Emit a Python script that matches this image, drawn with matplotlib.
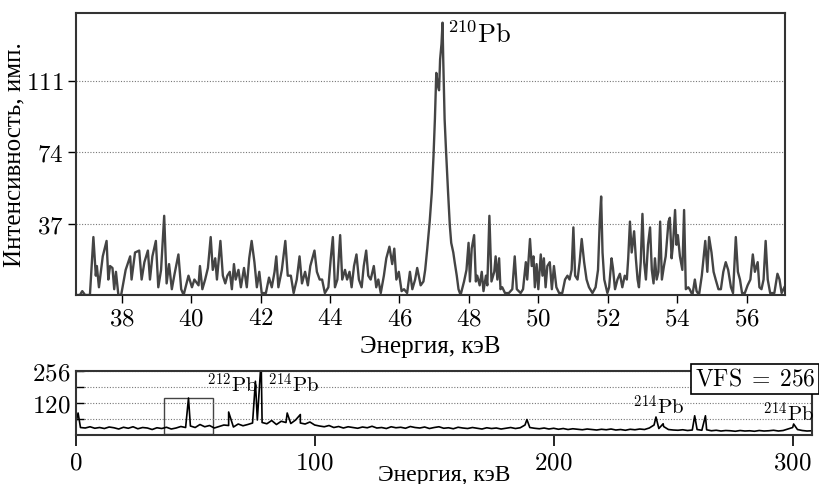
import numpy as np
import matplotlib
matplotlib.use('Agg')
import matplotlib.pyplot as plt
from matplotlib.patches import Rectangle
from matplotlib.ticker import FuncFormatter

plt.rcParams['font.family'] = ['Liberation Serif', 'DejaVu Serif']
plt.rcParams['mathtext.fontset'] = 'cm'

# --- верхний спектр 37-57 кэВ (пики и впадины) ---
top_energy = [
    36.67, 36.79, 36.86, 36.94, 37.08, 37.18, 37.25, 37.28, 37.34, 37.45, 37.56, 37.61, 37.66, 37.73, 37.78,
    37.83, 37.90, 37.98, 38.02, 38.11, 38.24, 38.28, 38.38, 38.50, 38.57, 38.65, 38.75, 38.81, 38.88, 38.98,
    39.05, 39.13, 39.22, 39.29, 39.36, 39.44, 39.52, 39.63, 39.71, 39.78, 39.92, 40.02, 40.09, 40.21,
    40.25, 40.32, 40.40, 40.48, 40.56, 40.62, 40.69, 40.74, 40.84, 40.91, 40.98, 41.04, 41.11, 41.17, 41.23,
    41.28, 41.36, 41.43, 41.52, 41.60, 41.67, 41.74, 41.82, 41.89, 41.96, 42.03, 42.15, 42.24, 42.32, 42.40,
    42.45, 42.51, 42.61, 42.71, 42.78, 42.87, 42.95, 43.04, 43.12, 43.19, 43.28, 43.36, 43.43, 43.55, 43.62,
    43.70, 43.77, 43.85, 43.95, 44.02, 44.08, 44.14, 44.21, 44.29, 44.35, 44.43, 44.49, 44.56, 44.62, 44.69,
    44.76, 44.83, 44.91, 44.97, 45.04, 45.10, 45.17, 45.26, 45.33, 45.39, 45.46, 45.55, 45.62, 45.71, 45.79,
    45.85, 45.91, 45.98, 46.06, 46.13, 46.22, 46.30, 46.37, 46.45, 46.51,
    46.61, 46.69, 46.74, 46.80, 46.87, 46.93, 46.98, 47.02, 47.06, 47.11, 47.14, 47.17, 47.21, 47.24, 47.26,
    47.30, 47.34, 47.40, 47.45, 47.49, 47.55, 47.59, 47.65, 47.70, 47.76, 47.86, 47.93, 47.99, 48.03, 48.08,
    48.15, 48.20, 48.24, 48.31, 48.37, 48.42, 48.49, 48.53, 48.59, 48.65, 48.73,
    48.77, 48.82, 48.87, 48.91, 48.96, 49.04, 49.15, 49.25, 49.32, 49.38, 49.49, 49.56, 49.64, 49.68, 49.76,
    49.81, 49.86, 49.90, 49.95, 50.00, 50.07, 50.12, 50.16, 50.21, 50.26, 50.33, 50.39, 50.45, 50.52, 50.60,
    50.69, 50.77, 50.84, 50.90, 50.96, 51.01, 51.06, 51.13, 51.19, 51.25, 51.32, 51.39, 51.46, 51.56, 51.65,
    51.72, 51.77, 51.81, 51.85, 51.90, 51.99, 52.04, 52.11, 52.15, 52.21, 52.28, 52.35,
    52.42, 52.49, 52.55, 52.59, 52.64, 52.69, 52.76, 52.81, 52.86, 52.90, 52.95, 53.00, 53.05, 53.10, 53.16,
    53.22, 53.27, 53.32, 53.36, 53.41, 53.46, 53.51, 53.56, 53.62, 53.67, 53.75, 53.79, 53.84, 53.88, 53.94,
    53.98, 54.02, 54.08, 54.15, 54.20, 54.25, 54.32, 54.36, 54.44, 54.51, 54.56, 54.63, 54.71, 54.76, 54.81,
    54.87, 54.92, 54.99, 55.05, 55.11, 55.19, 55.26, 55.33, 55.40, 55.47, 55.55, 55.61, 55.69, 55.75, 55.81,
    55.87, 55.95, 56.03, 56.11, 56.18, 56.24, 56.32, 56.37, 56.43, 56.49, 56.55, 56.61, 56.68, 56.80, 56.89,
    56.95, 57.01, 57.09,
]
top_counts = [
    0, 0, 2, 0, 0, 30, 10, 15, 4, 20, 28, 8, 15, 14, 3,
    12, 0, 0, 4, 13, 20, 8, 22, 23, 8, 17, 23, 8, 20, 28,
    4, 13, 41, 6, 16, 3, 11, 21, 3, 0, 10, 4, 8, 5,
    15, 3, 8, 14, 30, 13, 19, 8, 28, 10, 6, 10, 12, 3, 16,
    8, 13, 4, 14, 4, 19, 28, 17, 4, 12, 1, 1, 9, 4, 12,
    20, 4, 13, 28, 10, 10, 1, 8, 20, 6, 12, 5, 15, 23, 12,
    8, 8, 1, 4, 19, 30, 4, 8, 31, 8, 13, 8, 12, 4, 15,
    21, 8, 4, 15, 23, 10, 8, 15, 4, 8, 1, 10, 19, 25, 16,
    24, 8, 12, 2, 3, 1, 12, 3, 8, 14,
    5, 7, 13, 24, 38, 53, 72, 91, 115, 108, 106, 122, 130, 141, 122,
    91, 75, 53, 36, 27, 22, 17, 10, 3, 0, 7, 13, 27, 7, 24,
    31, 7, 10, 5, 12, 2, 10, 5, 41, 7, 12,
    20, 8, 19, 3, 4, 1, 1, 3, 20, 3, 1, 3, 17, 8, 29,
    15, 20, 4, 16, 3, 21, 10, 19, 4, 15, 17, 3, 15, 4, 1,
    1, 8, 10, 8, 13, 35, 10, 8, 17, 29, 17, 8, 4, 1, 4,
    13, 38, 51, 22, 8, 1, 4, 19, 14, 3, 8, 11,
    4, 10, 8, 19, 38, 22, 33, 19, 8, 4, 17, 42, 17, 8, 26,
    35, 13, 6, 19, 8, 12, 38, 8, 15, 20, 38, 40, 19, 26, 44,
    26, 31, 20, 13, 44, 3, 4, 3, 0, 8, 2, 0, 10, 19, 28,
    12, 30, 22, 12, 8, 3, 3, 12, 17, 13, 4, 1, 30, 12, 8,
    1, 1, 5, 8, 21, 12, 17, 4, 3, 8, 28, 8, 1, 1, 11,
    8, 1, 4,
]
top_xticks = [38, 40, 42, 44, 46, 48, 50, 52, 54, 56]
top_yticks = [37, 74, 111]

# --- обзорный спектр 0-308 кэВ, шаг 2 кэВ ---
full_energy = np.arange(0, 310, 2)
full_counts = [
    45, 30, 28, 33, 27, 30, 26, 32, 29, 24,
    31, 27, 33, 25, 30, 28, 22, 29, 26, 31,
    24, 28, 34, 30, 36, 30, 42, 33, 38, 28,
    34, 40, 38, 32, 44, 37, 42, 48, 60, 50,
    45, 58, 42, 55, 50, 46, 60, 48, 44, 52,
    40, 36, 33, 38, 30, 34, 28, 33, 30, 27,
    32, 29, 35, 28, 30, 26, 33, 29, 31, 27,
    34, 30, 28, 32, 26, 30, 33, 27, 29, 25,
    31, 28, 26, 30, 27, 24, 29, 26, 28, 24,
    27, 30, 26, 29, 40, 30, 27, 25, 28, 24,
    27, 23, 26, 22, 25, 23, 21, 24, 22, 20,
    23, 21, 24, 20, 22, 19, 23, 21, 24, 22,
    28, 40, 26, 34, 22, 20, 19, 21, 18, 20,
    22, 19, 21, 17, 19, 16, 18, 17, 15, 18,
    16, 17, 15, 18, 16, 17, 19, 16, 18, 24,
    30, 22, 18, 16, 17,
]
# узкие линии поверх фона
line_energy = [1.0, 47.2, 64.0, 75.2, 77.6, 88.5, 94.0, 188.8, 242.8, 245.8, 259.0, 263.5, 300.4]
line_counts = [88, 148, 92, 215, 300, 88, 82, 62, 72, 45, 77, 77, 44]

bottom_xticks = [0, 100, 200, 300]
bottom_yticks = [64, 128, 192, 256]
bottom_ylabels = ['', '120', '', '256']

# подписи линий: (энергия, счёт, текст)
top_label = (47.38, 131, r'$^{210}\mathrm{Pb}$')
bottom_labels = [
    (54.8, 172, r'$^{212}\mathrm{Pb}$'),
    (80.5, 172, r'$^{214}\mathrm{Pb}$'),
    (233.3, 84, r'$^{214}\mathrm{Pb}$'),
    (287.4, 57, r'$^{214}\mathrm{Pb}$'),
]

num_fmt = FuncFormatter(lambda v, p: f'${v:g}$')

fig = plt.figure(figsize=(8.2, 4.85), dpi=100)

# верхняя панель
ax1 = fig.add_axes([0.0923, 0.3897, 0.8647, 0.5814])
ax1.plot(top_energy, top_counts, color='#444444', lw=1.7)
ax1.set_xlim(36.67, 57.1)
ax1.set_ylim(0, 146)
ax1.set_xticks(top_xticks)
ax1.set_yticks(top_yticks)
ax1.xaxis.set_major_formatter(num_fmt)
ax1.yaxis.set_major_formatter(num_fmt)
ax1.tick_params(direction='out', length=6, width=1, labelsize=18, pad=3)
ax1.yaxis.grid(True, linestyle=(0, (1, 1.5)), color='#777777', lw=0.8)
for s in ax1.spines.values():
    s.set_linewidth(1.5)
    s.set_color('#333333')
ax1.set_xlabel('Энергия, кэВ', fontsize=18, va='top')
ax1.xaxis.set_label_coords(0.5, -0.143)
ax1.set_ylabel('Интенсивность, имп.', fontsize=18)
ax1.yaxis.set_label_coords(-0.071, 0.5)
ax1.text(top_label[0], top_label[1], top_label[2], fontsize=19, va='baseline')

# нижняя панель
e_all = np.concatenate([full_energy, line_energy])
c_all = np.concatenate([full_counts, line_counts])
order = np.argsort(e_all)
ax2 = fig.add_axes([0.0923, 0.101, 0.8977, 0.132])
ax2.plot(e_all[order], c_all[order], color='black', lw=1.2)
ax2.set_xlim(0, 308)
ax2.set_ylim(0, 256)
ax2.set_xticks(bottom_xticks)
ax2.set_yticks(bottom_yticks)
ax2.xaxis.set_major_formatter(num_fmt)
ax2.set_yticklabels([f'${t}$' if t else '' for t in bottom_ylabels])
ax2.tick_params(axis='x', direction='out', length=8, width=1.2, labelsize=18, pad=4)
ax2.tick_params(axis='y', direction='in', length=6, width=1, labelsize=18, pad=4)
ax2.yaxis.grid(True, linestyle=(0, (1, 1.5)), color='#777777', lw=0.8)
for s in ax2.spines.values():
    s.set_linewidth(1.5)
    s.set_color('#333333')
ax2.add_patch(Rectangle((36.8, 5), 20.6, 145, fill=False, ec='#444444', lw=1))
for x, y, t in bottom_labels:
    ax2.text(x, y, t, fontsize=15, va='baseline')
ax2.set_xlabel('Энергия, кэВ', fontsize=17, va='baseline')
ax2.xaxis.set_label_coords(0.5, -0.7)

fig.text(0.921, 0.2165, r'$\mathrm{VFS}\;=\;256$', ha='center', va='center', fontsize=17,
         bbox=dict(boxstyle='square,pad=0.15', fc='white', ec='black', lw=1.2))

fig.savefig('out.png', dpi=100)
